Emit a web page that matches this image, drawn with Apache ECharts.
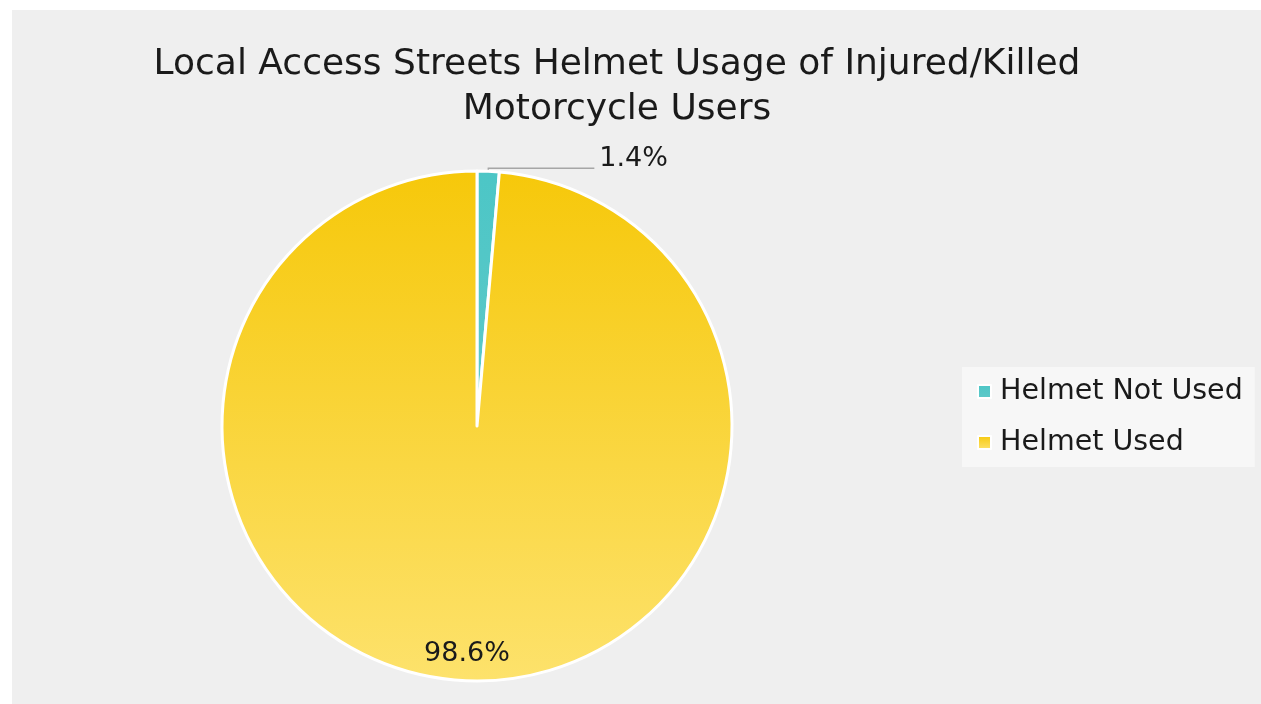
<!DOCTYPE html>
<html>
<head>
<meta charset="utf-8">
<script src="https://cdn.jsdelivr.net/npm/echarts@6/dist/echarts.min.js"></script>
<style>
  html, body { margin: 0; padding: 0; background: #ffffff; }
  .panel { position: absolute; left: 12px; top: 10px; width: 1249px; height: 694px; background: #efefef; }
  #chart { position: absolute; left: 0; top: 0; width: 1261px; height: 704px; }
</style>
</head>
<body>
<div class="panel"></div>
<div id="chart"></div>
<script>
// data
const categories = ["Helmet Not Used", "Helmet Used"];
const shares = [1.4, 98.6];
const sliceColors = [
  ["#4cc6c6", "#5fc9c9"],   // top -> bottom
  ["#f6c80a", "#fde26c"]
];

const fontFamily = "'DejaVu Sans', sans-serif";
const center = [477, 426];

const grad = (c) => new echarts.graphic.LinearGradient(0, 0, 0, 1, [
  { offset: 0, color: c[0] },
  { offset: 1, color: c[1] }
]);

const mainData = categories.map((name, i) => ({
  name: name,
  value: shares[i],
  itemStyle: { color: grad(sliceColors[i]) },
  label: { show: i === 0 },
  labelLine: { show: i === 0 }
}));

// second ring only carries the inner label of the big slice
const labelData = categories.map((name, i) => ({
  name: name,
  value: shares[i],
  label: { show: i === 1 }
}));

const chart = echarts.init(document.getElementById("chart"));

chart.setOption({
  backgroundColor: "transparent",
  animation: false,
  title: {
    text: "Local Access Streets Helmet Usage of Injured/Killed\nMotorcycle Users",
    left: 617,
    textAlign: "center",
    top: 42,
    padding: 0,
    textStyle: {
      fontFamily: fontFamily,
      fontWeight: "normal",
      fontSize: 36,
      lineHeight: 45,
      color: "#1a1a1a"
    }
  },
  legend: {
    orient: "vertical",
    left: 962,
    top: 367,
    padding: [10, 12, 10, 15],
    backgroundColor: "#f7f7f7",
    itemWidth: 13,
    itemHeight: 13,
    itemGap: 22,
    itemStyle: { borderColor: "#ffffff", borderWidth: 2 },
    icon: "rect",
    data: categories,
    textStyle: {
      fontFamily: fontFamily,
      fontSize: 28.5,
      color: "#1a1a1a",
      padding: [0, 0, 0, 4]
    }
  },
  series: [
    {
      name: "Helmet Usage",
      type: "pie",
      center: center,
      radius: [0, 255],
      startAngle: 90,
      clockwise: true,
      data: mainData,
      itemStyle: { borderColor: "#ffffff", borderWidth: 3 },
      emphasis: { disabled: true },
      label: {
        position: "outside",
        formatter: "{c}%",
        fontFamily: fontFamily,
        fontSize: 27,
        color: "#1a1a1a"
      },
      labelLine: {
        length: 3,
        length2: 106,
        lineStyle: { color: "#a6a6a6", width: 1.5 }
      },
      // lift the small label a bit above its leader line
      labelLayout: function () {
        return { dy: -9 };
      }
    },
    {
      name: "labels",
      type: "pie",
      center: center,
      radius: [195, 255],
      startAngle: 90,
      clockwise: true,
      silent: true,
      legendHoverLink: false,
      z: 3,
      data: labelData,
      itemStyle: { color: "rgba(0,0,0,0)" },
      label: {
        position: "inside",
        formatter: "{c}%",
        fontFamily: fontFamily,
        fontSize: 27,
        color: "#1a1a1a"
      },
      labelLine: { show: false }
    }
  ]
});
</script>
</body>
</html>
